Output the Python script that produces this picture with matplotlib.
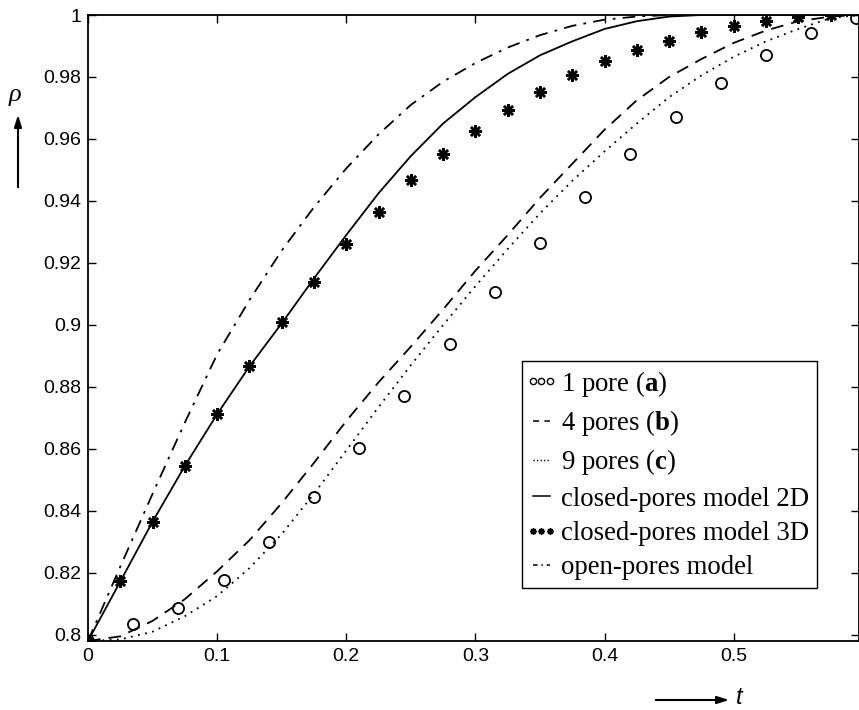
import matplotlib
matplotlib.use("Agg")
import matplotlib.pyplot as plt
from matplotlib.lines import Line2D
from matplotlib.legend_handler import HandlerLine2D

plt.rcParams['mathtext.fontset'] = 'custom'
plt.rcParams['mathtext.rm'] = 'Liberation Serif'
plt.rcParams['mathtext.bf'] = 'Liberation Serif:bold'
plt.rcParams['mathtext.it'] = 'Liberation Serif:italic'

# ---- data ----
t_a = [0.0, 0.035, 0.07, 0.105, 0.14, 0.175, 0.21, 0.245, 0.28, 0.315, 0.35,
       0.385, 0.42, 0.455, 0.49, 0.525, 0.56, 0.595]
rho_a = [0.798, 0.8036, 0.8088, 0.8178, 0.830, 0.8446, 0.8604, 0.8769, 0.8938,
         0.9105, 0.9263, 0.9412, 0.9551, 0.967, 0.978, 0.987, 0.9942, 0.999]

t_lines = [0.0, 0.025, 0.05, 0.075, 0.1, 0.125, 0.15, 0.175, 0.2, 0.225, 0.25,
           0.275, 0.3, 0.325, 0.35, 0.375, 0.4, 0.425, 0.45, 0.475, 0.5, 0.525,
           0.55, 0.575, 0.597]
rho_b = [0.798, 0.7995, 0.8045, 0.8115, 0.8205, 0.8305, 0.8425, 0.8555, 0.869, 0.8815,
         0.893, 0.905, 0.9175, 0.929, 0.941, 0.952, 0.963, 0.9725, 0.980, 0.9858,
         0.991, 0.995, 0.998, 0.9995, 1.0]
rho_c = [0.798, 0.7985, 0.801, 0.806, 0.8125, 0.8215, 0.8325, 0.8455, 0.8595, 0.8735,
         0.887, 0.900, 0.9125, 0.9245, 0.936, 0.9465, 0.956, 0.965, 0.9735, 0.9805,
         0.9865, 0.9915, 0.9955, 0.999, 1.0]
rho_2d = [0.798, 0.8172, 0.8365, 0.8545, 0.8712, 0.8866, 0.9005, 0.915, 0.929, 0.9425,
          0.9545, 0.965, 0.9735, 0.981, 0.987, 0.9915, 0.9955, 0.998, 0.9995, 1.0,
          1.0, 1.0, 1.0, 1.0, 1.0]
rho_open = [0.798, 0.822, 0.8455, 0.8685, 0.8905, 0.908, 0.924, 0.938, 0.9505, 0.9615,
            0.971, 0.9785, 0.9845, 0.9895, 0.9935, 0.9965, 0.9985, 0.9995, 1.0, 1.0,
            1.0, 1.0, 1.0, 1.0, 1.0]

t_3d = [0.0, 0.025, 0.05, 0.075, 0.1, 0.125, 0.15, 0.175, 0.2, 0.225, 0.25, 0.275,
        0.3, 0.325, 0.35, 0.375, 0.4, 0.425, 0.45, 0.475, 0.5, 0.525, 0.55, 0.575]
rho_3d = [0.798, 0.8172, 0.8365, 0.8545, 0.8714, 0.8866, 0.9008, 0.9137, 0.926, 0.9365,
          0.9467, 0.9551, 0.9625, 0.9693, 0.975, 0.9806, 0.9851, 0.9887, 0.9916,
          0.9945, 0.9964, 0.998, 0.9994, 1.0]

xticks = [0, 0.1, 0.2, 0.3, 0.4, 0.5]
xticklabels = ["0", "0.1", "0.2", "0.3", "0.4", "0.5"]
yticks = [0.8, 0.82, 0.84, 0.86, 0.88, 0.9, 0.92, 0.94, 0.96, 0.98, 1.0]
yticklabels = ["0.8", "0.82", "0.84", "0.86", "0.88", "0.9", "0.92", "0.94", "0.96", "0.98", "1"]

labels = ["1 pore ($\\mathbf{a}$)", "4 pores ($\\mathbf{b}$)", "9 pores ($\\mathbf{c}$)",
          "closed-pores model 2D", "closed-pores model 3D", "open-pores model"]

# ---- figure ----
fig = plt.figure(figsize=(8.59, 7.10), dpi=100)
ax = fig.add_axes([88/859, 1 - 641/710, (859 - 88)/859, (641 - 15)/710])

lw = 1.3
ax.plot(t_lines, rho_open, color='black', lw=lw, linestyle=(0, (7, 4, 1.5, 4)))
ax.plot(t_lines, rho_2d, color='black', lw=lw, linestyle='-')
ax.plot(t_lines, rho_b, color='black', lw=lw, linestyle=(0, (7, 4.5)))
ax.plot(t_lines, rho_c, color='black', lw=lw, linestyle=(0, (1, 3)))
ax.plot(t_a, rho_a, linestyle='none', marker='o', markersize=8, markerfacecolor='none',
        markeredgecolor='black', markeredgewidth=1.3)
ax.plot(t_3d, rho_3d, linestyle='none', marker=(8, 2, 0), markersize=9,
        markeredgecolor='black', color='black', markeredgewidth=1.8)

ax.set_xlim(0, 0.597)
ax.set_ylim(0.798, 1.0)
ax.set_xticks(xticks)
ax.set_xticklabels(xticklabels)
ax.set_yticks(yticks)
ax.set_yticklabels(yticklabels)
ax.tick_params(direction='in', length=6, width=1, top=True, right=True,
               labelsize=14, pad=5)
for lab in ax.get_xticklabels() + ax.get_yticklabels():
    lab.set_family('Liberation Sans')
for sp in ax.spines.values():
    sp.set_linewidth(1.3)

# legend handles
h = [
    Line2D([], [], linestyle='none', marker='o', markersize=4.5, markerfacecolor='none',
           markeredgecolor='black', markeredgewidth=1.0),
    Line2D([], [], color='black', lw=1.1, linestyle=(0, (4, 3.5))),
    Line2D([], [], color='black', lw=1.0, linestyle=(0, (1, 1.5))),
    Line2D([], [], color='black', lw=1.1, linestyle='-'),
    Line2D([], [], linestyle='none', marker=(8, 2, 0), markersize=4.5,
           markeredgecolor='black', markeredgewidth=1.2),
    Line2D([], [], color='black', lw=1.1, linestyle=(0, (3, 2.5, 1, 2.5))),
]
leg = ax.legend(h, labels, loc='upper left', bbox_to_anchor=(522/859, 1 - 361/710),
                bbox_transform=fig.transFigure, borderaxespad=0, numpoints=3,
                handler_map={Line2D: HandlerLine2D(marker_pad=0.12)},
                handlelength=0.88, handletextpad=0.3, labelspacing=0.35,
                borderpad=0.28, fancybox=False, framealpha=1, edgecolor='black',
                prop={'family': 'Liberation Serif', 'size': 19.3})
leg.get_frame().set_linewidth(1.0)

# axis labels with arrows
fig.text(15/859, 1 - 95/710, r'$\rho$', fontsize=19, ha='center', va='center',
         family='DejaVu Sans', style='italic')
fig.text(736/859, 1 - 698/710, 't', fontsize=17, ha='left', va='center',
         family='Liberation Sans', style='italic')
ax.annotate('', xy=(18/859, 1 - 112/710), xytext=(18/859, 1 - 190/710),
            xycoords='figure fraction', textcoords='figure fraction',
            arrowprops=dict(arrowstyle='-|>,head_length=0.7,head_width=0.22',
                            color='black', lw=1.5), annotation_clip=False)
ax.annotate('', xy=(732/859, 1 - 700/710), xytext=(653/859, 1 - 700/710),
            xycoords='figure fraction', textcoords='figure fraction',
            arrowprops=dict(arrowstyle='-|>,head_length=0.7,head_width=0.22',
                            color='black', lw=1.5), annotation_clip=False)

fig.savefig('out.png', dpi=100)
